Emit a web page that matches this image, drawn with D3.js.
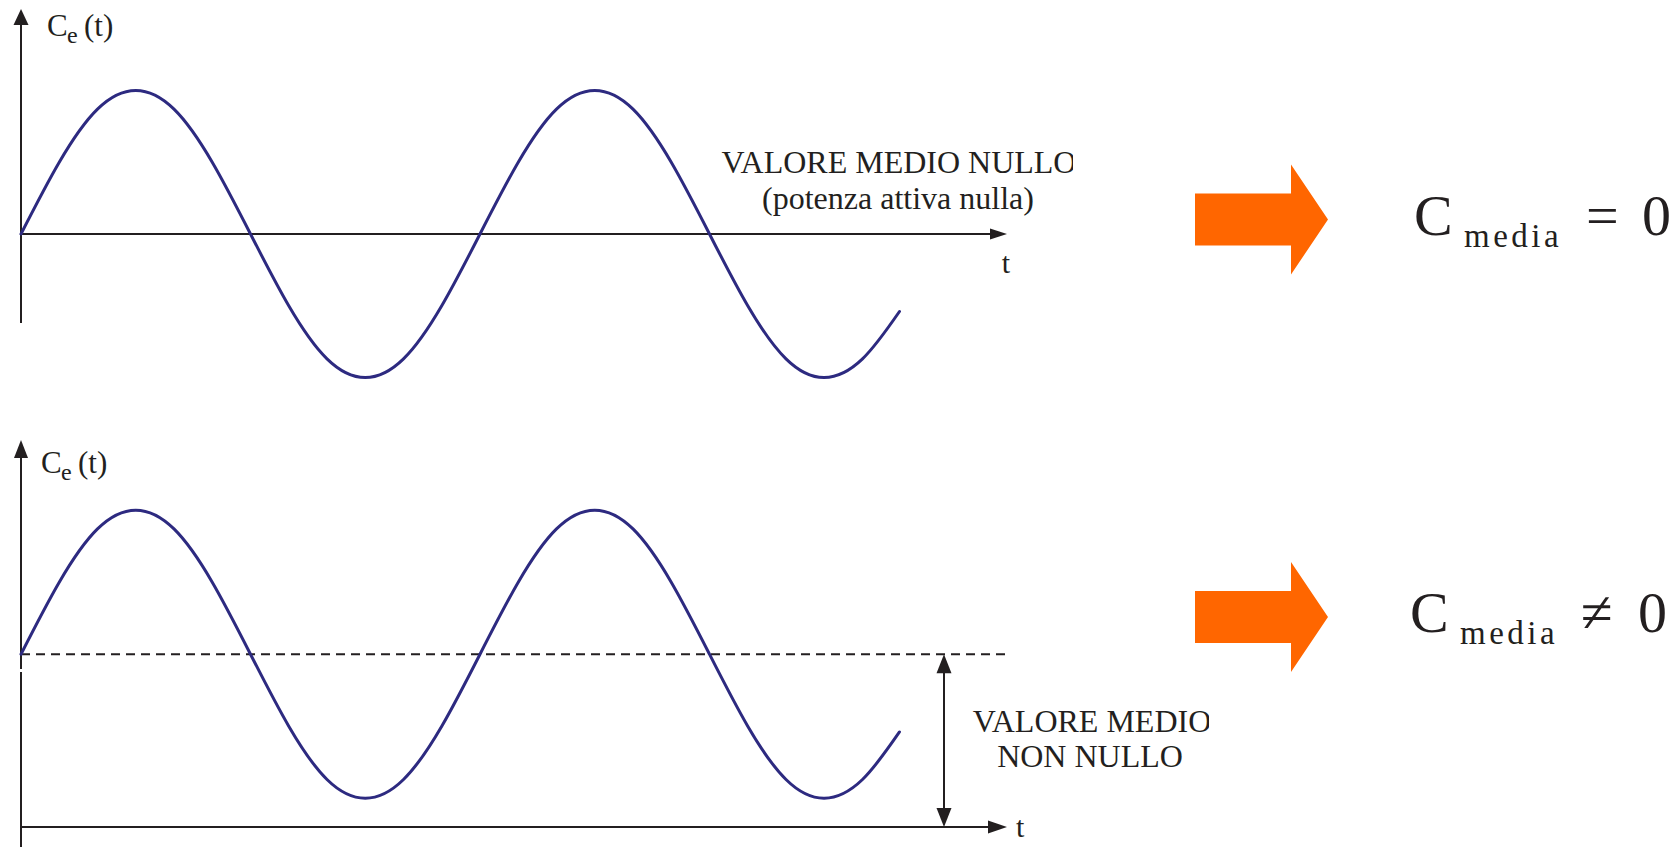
<!DOCTYPE html>
<html>
<head>
<meta charset="utf-8">
<script src="https://cdn.jsdelivr.net/npm/d3@7"></script>
<style>
  html, body { margin: 0; padding: 0; background: #ffffff; }
  svg { display: block; }
  text { font-family: "Liberation Serif", "DejaVu Serif", serif; fill: #231f20; }
</style>
</head>
<body>
<svg id="chart" width="1679" height="847"></svg>
<script>
// ---- data ----
const phaseDeg   = [0, 30, 60, 90, 120, 150, 180, 210, 240, 270, 300, 330, 360, 390, 420, 450, 480, 510, 540, 570, 600, 630, 660, 689];
const topValues  = [0, 0.5, 0.87, 1, 0.87, 0.5, 0, -0.5, -0.87, -1, -0.87, -0.5, 0, 0.5, 0.87, 1, 0.87, 0.5, 0, -0.5, -0.87, -1, -0.87, -0.54];
const meanValue  = 1.2;
const bottomValues = [1.2, 1.7, 2.07, 2.2, 2.07, 1.7, 1.2, 0.7, 0.33, 0.2, 0.33, 0.7, 1.2, 1.7, 2.07, 2.2, 2.07, 1.7, 1.2, 0.7, 0.33, 0.2, 0.33, 0.66];
const axisLabel = "C";
const axisSub = "e";
const axisArg = "(t)";
const timeLabel = "t";
const topNote = ["VALORE MEDIO NULLO", "(potenza attiva nulla)"];
const bottomNote = ["VALORE MEDIO", "NON NULLO"];
const formulaSub = "media";
const formulaOps = ["=", "\u2260"];
const formulaRhs = "0";

// ---- layout ----
const svg = d3.select("#chart");
const ink = "#231f20";
const waveColor = "#2d2a80";
const orange = "#ff6600";
const x0 = 21, xEnd = 1007;

const x = d3.scaleLinear().domain([0, 360]).range([21, 480]);
const yTop = d3.scaleLinear().domain([0, 1]).range([234, 90.5]);
const yBot = d3.scaleLinear().domain([0, 1]).range([827, 683]);

const defs = svg.append("defs");
defs.append("clipPath").attr("id", "clipTop").append("rect")
  .attr("x", 600).attr("y", 100).attr("width", 473).attr("height", 140);
defs.append("clipPath").attr("id", "clipBot").append("rect")
  .attr("x", 950).attr("y", 680).attr("width", 259).attr("height", 110);

function line(x1, y1, x2, y2, w) {
  svg.append("line").attr("x1", x1).attr("y1", y1).attr("x2", x2).attr("y2", y2)
    .attr("stroke", ink).attr("stroke-width", w || 2);
}
function tri(pts, fill) {
  svg.append("polygon").attr("points", pts.map(p => p.join(",")).join(" "))
    .attr("fill", fill || ink);
}

// ===== TOP PANEL =====
const zTop = yTop(0);
line(x0, 9 + 10, x0, 323);
tri([[x0, 9], [x0 + 7.5, 25], [x0 - 7.5, 25]]);
line(x0, zTop, xEnd - 10, zTop);
tri([[xEnd, zTop], [xEnd - 17, zTop - 5.5], [xEnd - 17, zTop + 5.5]]);

const topData = phaseDeg.map((p, i) => [p, topValues[i]]);
svg.append("path").datum(topData)
  .attr("fill", "none").attr("stroke", waveColor).attr("stroke-width", 3)
  .attr("stroke-linejoin", "round").attr("stroke-linecap", "round")
  .attr("d", d3.line().x(d => x(d[0])).y(d => yTop(d[1])).curve(d3.curveNatural));

// axis label
let g = svg.append("text").attr("y", 36).attr("font-size", 31);
g.append("tspan").attr("x", 47).text(axisLabel);
g.append("tspan").attr("x", 67).attr("y", 43).attr("font-size", 24).text(axisSub);
g.append("tspan").attr("x", 84).attr("y", 36).text(axisArg);

svg.append("text").attr("x", 1006).attr("y", 273).attr("font-size", 30)
  .attr("text-anchor", "middle").text(timeLabel);

const topNoteG = svg.append("g").attr("clip-path", "url(#clipTop)");
topNoteG.append("text").attr("x", 899).attr("y", 173).attr("font-size", 32)
  .attr("text-anchor", "middle").text(topNote[0]);
topNoteG.append("text").attr("x", 898).attr("y", 209).attr("font-size", 32)
  .attr("text-anchor", "middle").text(topNote[1]);

// ===== BOTTOM PANEL =====
const zBot = yBot(0);
const mBot = yBot(meanValue);
line(x0, 440 + 10, x0, 669);
line(x0, 672, x0, 847);
tri([[x0, 440], [x0 + 7, 458], [x0 - 7, 458]]);
line(x0, zBot, xEnd - 10, zBot);
tri([[xEnd, zBot], [xEnd - 19, zBot - 6.5], [xEnd - 19, zBot + 6.5]]);

svg.append("line").attr("x1", x0).attr("x2", 1008).attr("y1", mBot).attr("y2", mBot)
  .attr("stroke", ink).attr("stroke-width", 2).attr("stroke-dasharray", "9,6");

// double arrow for the mean value
const xa = 944;
line(xa, mBot + 10, xa, zBot - 10);
tri([[xa, mBot], [xa + 7.5, mBot + 19], [xa - 7.5, mBot + 19]]);
tri([[xa, zBot], [xa + 7.5, zBot - 19], [xa - 7.5, zBot - 19]]);

const botData = phaseDeg.map((p, i) => [p, bottomValues[i]]);
svg.append("path").datum(botData)
  .attr("fill", "none").attr("stroke", waveColor).attr("stroke-width", 3)
  .attr("stroke-linejoin", "round").attr("stroke-linecap", "round")
  .attr("d", d3.line().x(d => x(d[0])).y(d => yBot(d[1])).curve(d3.curveNatural));

g = svg.append("text").attr("y", 473).attr("font-size", 31);
g.append("tspan").attr("x", 41).text(axisLabel);
g.append("tspan").attr("x", 61).attr("y", 480).attr("font-size", 24).text(axisSub);
g.append("tspan").attr("x", 78).attr("y", 473).text(axisArg);

svg.append("text").attr("x", 1016).attr("y", 837).attr("font-size", 30).text(timeLabel);

const botNoteG = svg.append("g").attr("clip-path", "url(#clipBot)");
botNoteG.append("text").attr("x", 1092).attr("y", 732).attr("font-size", 32)
  .attr("text-anchor", "middle").text(bottomNote[0]);
botNoteG.append("text").attr("x", 1090).attr("y", 767).attr("font-size", 32)
  .attr("text-anchor", "middle").text(bottomNote[1]);

// ===== ORANGE ARROWS + FORMULAS =====
function bigArrow(cy) {
  const pts = [[1195, cy - 26], [1291, cy - 26], [1291, cy - 55], [1328, cy],
               [1291, cy + 55], [1291, cy + 26], [1195, cy + 26]];
  tri(pts, orange);
}
bigArrow(219.5);
bigArrow(617);

function formula(base, op, xC, xOp, x0r) {
  svg.append("text").attr("x", xC).attr("y", base).attr("font-size", 58).text(axisLabel);
  svg.append("text").attr("x", xC + 50).attr("y", base + 12).attr("font-size", 33)
    .attr("letter-spacing", 3.5).text(formulaSub);
  svg.append("text").attr("x", xOp).attr("y", base).attr("font-size", 58).text(op);
  svg.append("text").attr("x", x0r).attr("y", base).attr("font-size", 58).text(formulaRhs);
}
formula(235, formulaOps[0], 1414, 1586, 1642);
formula(632, formulaOps[1], 1410, 1581, 1638);
</script>
</body>
</html>
